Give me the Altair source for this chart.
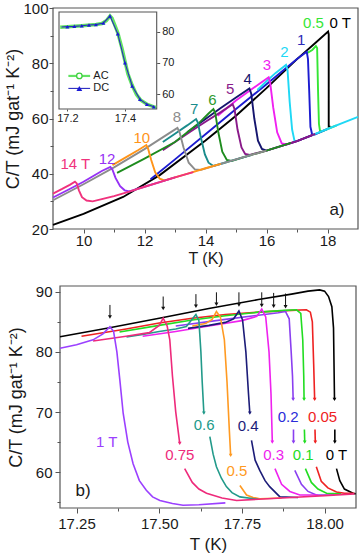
import altair as alt
import pandas as pd

FONT = "Liberation Sans"
INK = "#1a1a1a"
FRAME = "#555555"

# ---------------- drawing area (pixels, relative to plot origin) ----------------
W, H = 305, 500
PAD = {"left": 53, "top": 8, "right": 5, "bottom": 50}
A_XR, A_YR = [0, 305], [221, 0]        # panel a
B_XR, B_YR = [7, 303], [500, 278]      # panel b
I_XR, I_YR = [6, 103.7], [101, 4]      # inset of panel a

# ---------------- domains and ticks ----------------
a_xdom, a_ydom = [9, 19], [20, 100]
a_xticks, a_xminor = [10, 12, 14, 16, 18], [11, 13, 15, 17]
a_yticks, a_yminor = [20, 40, 60, 80, 100], [30, 50, 70, 90]

b_xdom, b_ydom = [17.2, 18.095], [54.05, 90.95]
b_xticks, b_xminor = [17.25, 17.5, 17.75, 18.0], [17.375, 17.625, 17.875]
b_yticks, b_yminor = [60, 70, 80, 90], [55, 65, 75, 85]

i_xdom, i_ydom = [17.171, 17.51], [55.2, 86.3]
i_xticks = [17.2, 17.4]
i_yticks = [60, 70, 80]

YTITLE = "C/T (mJ gat\u207b\u00b9 K\u207b\u00b2)"

# ---------------- panel a: C/T for 0 ... 14 T ----------------
a_names = ["0 T", "0.5", "1", "2", "3", "4", "5", "6", "7", "8", "10", "12", "14 T"]
a_colors = ["#000000", "#35e635", "#1c1cd0", "#1fd8f5", "#f020f0", "#15156e",
            "#8a1a8a", "#1e8c1e", "#1a8c8c", "#8c8c8c", "#ff9419", "#9632f5", "#f0327d"]
a_T = {
    "0 T": [9, 10, 11.3, 12.5, 14, 15, 16, 17, 17.6, 18.02, 18.04, 18.04, 18.1],
    "0.5": [17.3, 17.5, 17.62, 17.66, 17.69, 17.72, 17.76, 18.0, 18.3],
    "1": [12.2, 13, 14, 15, 16, 17, 17.32, 17.36, 17.4, 17.44, 17.5, 17.6, 18.0],
    "2": [15.7, 16.0, 16.3, 16.64, 16.69, 16.76, 16.84, 16.92, 17.0, 17.5, 18, 18.5, 19],
    "3": [14.4, 15, 15.5, 16.07, 16.12, 16.22, 16.35, 16.5, 16.67, 17, 17.5],
    "4": [13.4, 14, 14.5, 15, 15.44, 15.5, 15.6, 15.72, 15.85, 16.0, 16.5, 17, 17.5],
    "5": [12.6, 13, 13.5, 14, 14.5, 14.89, 14.95, 15.05, 15.18, 15.3, 15.45, 16, 16.5, 17, 17.6],
    "6": [11.1, 12, 13, 13.8, 14.1, 14.26, 14.32, 14.42, 14.55, 14.7, 14.85, 15.5, 16, 16.8],
    "7": [12.6, 13, 13.4, 13.69, 13.75, 13.85, 13.98, 14.1, 14.26, 14.6, 15.0, 15.5],
    "8": [9, 10, 11, 12, 12.8, 13.08, 13.15, 13.28, 13.45, 13.65, 13.85, 14.5, 15, 16],
    "10": [10.95, 11.4, 11.8, 12.06, 12.12, 12.22, 12.35, 12.5, 12.65, 13, 13.5, 14, 14.5],
    "12": [9, 9.5, 10, 10.6, 10.88, 10.95, 11.05, 11.2, 11.35, 11.5, 12, 12.5, 13],
    "14 T": [9, 9.3, 9.55, 9.72, 9.78, 9.85, 9.95, 10.1, 10.3, 10.6, 11, 11.5, 12, 12.5, 13, 13.6],
}
a_C = {
    "0 T": [21.5, 25.5, 31.6, 39.5, 52, 61, 71, 81.5, 87.3, 91.5, 90.5, 57.0, 57.0],
    "0.5": [83.5, 84.8, 86.2, 85.5, 70, 58, 55.1, 56.2, 57.5],
    "1": [38, 45.2, 54.3, 63.4, 72.4, 81.5, 84.2, 81.5, 70, 57, 54.0, 54.3, 56.2],
    "2": [70.3, 73.5, 76.5, 79.4, 77.5, 66, 56, 51.8, 51.8, 54.0, 56.2, 58.4, 60.6],
    "3": [61, 66.5, 70.5, 74.9, 73, 64, 55, 51, 50.6, 51.8, 54.0],
    "4": [55, 59.8, 63.8, 67.6, 70.9, 69, 60, 52, 49, 48.4, 50.1, 51.8, 54.0],
    "5": [48.5, 51.5, 55.2, 58.8, 62.3, 65.2, 63.5, 56, 49.5, 47.2, 46.8, 48.4, 50.1, 51.8, 54.4],
    "6": [40.3, 45.5, 51.5, 58.5, 61.8, 63.4, 62, 55, 48, 45, 44.6, 46.8, 48.4, 51.2],
    "7": [51.5, 54.5, 57.5, 59.8, 58.5, 53, 47, 44, 42.8, 43.9, 45.2, 46.8],
    "8": [30.4, 36.2, 42.3, 48.9, 54.6, 56.6, 55, 49.5, 44, 41.6, 41.4, 43.6, 45.2, 48.4],
    "10": [43.1, 46, 48.6, 50.4, 49, 45, 40.5, 38.2, 37.6, 38.7, 40.3, 42.0, 43.6],
    "12": [31.4, 34.2, 37.1, 41, 42.5, 41.5, 38.5, 35.5, 34.0, 33.6, 35.3, 37.0, 38.7],
    "14 T": [32.8, 34.5, 36, 37.1, 36.5, 34, 31.5, 30.3, 30.0, 30.8, 31.9, 33.5, 35.3, 37.0, 38.7, 40.6],
}
a_lab_T = [18.42, 17.54, 17.14, 16.59, 16.01, 15.38, 14.81, 14.23, 13.63, 13.06, 11.91, 10.77, 9.73]
a_lab_C = [94.5, 94.5, 88.4, 84.2, 79.4, 74.4, 70.5, 66.7, 63.5, 60.6, 53.1, 45.2, 43.5]
a_lab_col = ["#000000", "#35e635", "#2a2ab8", "#1fd8f5", "#f020f0", "#15156e",
             "#8a1a8a", "#2e9a2e", "#1a8c8c", "#8c8c8c", "#ff9419", "#9632f5", "#f0327d"]
a_tag_T, a_tag_C = [18.31], [27.0]

# ---------------- inset: AC and DC runs at 1 T ----------------
ac_T = [17.175, 17.2, 17.25, 17.3, 17.32, 17.335, 17.348, 17.355, 17.365, 17.375, 17.39,
        17.4, 17.41, 17.425, 17.44, 17.455, 17.475, 17.5, 17.508]
ac_C = [81.4, 81.6, 81.9, 82.3, 82.6, 83.5, 85.0, 84.3, 82.0, 79.6, 74.5,
        70.5, 66.5, 62.8, 59.8, 58.0, 56.8, 55.9, 55.7]
dc_T = [17.18, 17.2, 17.224, 17.25, 17.275, 17.299, 17.325, 17.348, 17.375, 17.4,
        17.425, 17.452, 17.476, 17.5]
dc_C = [81.5, 81.6, 81.7, 81.9, 82.15, 82.25, 82.8, 85.0, 79.3, 70.0,
        62.6, 58.3, 56.7, 55.9]
leg_names = ["AC", "DC"]
leg_C = [65.8, 61.8]
leg_T0, leg_T1, leg_Tm, leg_Ttxt = 17.2035, 17.279, 17.2416, 17.29

# ---------------- panel b: C/T near Tc for 0 ... 1 T ----------------
b_names = ["0 T", "0.05", "0.1", "0.2", "0.3", "0.4", "0.5", "0.6", "0.75", "1 T"]
b_colors = ["#000000", "#ee2222", "#22dd22", "#8a3ff0", "#ee22ee", "#1c1c78",
            "#ff9a22", "#229a8a", "#ee2a7b", "#9b40ff"]
b_T = {
    "0 T": [17.2, 17.35, 17.5, 17.65, 17.8, 17.9, 17.95, 17.985, 18.0, 18.012, 18.022, 18.027, 18.03, None,
            18.031, 18.031, None, 18.036, 18.046, 18.06, 18.086, 18.094],
    "0.05": [17.265, 17.4, 17.5, 17.6, 17.7, 17.8, 17.9, 17.945, 17.957, 17.963, 17.967, 17.97, None,
             17.971, 17.972, None, 17.975, 17.99, 18.01, 18.036, 18.06, 18.09],
    "0.1": [17.38, 17.5, 17.6, 17.7, 17.8, 17.88, 17.915, 17.928, 17.934, 17.937, 17.938, None,
            17.939, 17.94, None, 17.942, 17.96, 17.98, 18.006, 18.05],
    "0.2": [17.55, 17.7, 17.8, 17.86, 17.882, 17.893, 17.899, 17.903, 17.905, None,
            17.906, 17.906, None, 17.91, 17.93, 17.95, 17.975, 18.03],
    "0.3": [17.45, 17.55, 17.65, 17.75, 17.795, 17.81, 17.822, 17.832, 17.838, 17.842, None,
            17.85, 17.87, 17.895, 17.925, 17.98],
    "0.4": [17.587, 17.65, 17.7, 17.725, 17.741, 17.752, 17.762, 17.77, 17.774, None,
            17.779, 17.79, 17.804, 17.82, 17.834, 17.865, 17.92],
    "0.5": [17.6, 17.64, 17.66, 17.673, 17.685, 17.697, 17.705, 17.712, 17.716, None,
            17.744, 17.764, 17.784, 17.804, 17.87],
    "0.6": [17.401, 17.45, 17.5, 17.55, 17.582, 17.611, 17.62, 17.626, 17.63, 17.635, None,
            17.653, 17.663, 17.673, 17.688, 17.703, 17.72, 17.744, 17.8],
    "0.75": [17.3, 17.4, 17.47, 17.5, 17.512, 17.524, 17.532, 17.54, 17.55, 17.562, None,
             17.577, 17.6, 17.62, 17.643, 17.69, 17.734, 17.8, 17.9, 18.0, 18.09],
    "1 T": [17.2, 17.25, 17.3, 17.33, 17.351, 17.362, 17.372, 17.381, 17.391, 17.405, 17.421,
            17.44, 17.461, 17.48, 17.502, 17.54, 17.572, 17.62, 17.7],
}
b_C = {
    "0 T": [82.5, 84.0, 85.6, 87.2, 88.7, 89.6, 90.1, 90.3, 90.1, 89.2, 87.5, 84, 72.1, None,
            67.1, 65.0, None, 60.6, 58.6, 57.2, 56.5, 56.4],
    "0.05": [82.6, 83.8, 84.8, 85.6, 86.2, 86.6, 86.9, 87.0, 86.6, 85.0, 78, 72.1, None,
             67.1, 65.0, None, 60.9, 58.5, 57.4, 56.7, 56.5, 56.5],
    "0.1": [83.3, 84.4, 85.3, 86.0, 86.6, 86.9, 87.0, 86.4, 82, 76, 72.1, None,
            67.1, 65.0, None, 60.6, 58.3, 57.2, 56.5, 56.4],
    "0.2": [84.3, 85.4, 86.1, 86.5, 86.7, 85.5, 80, 76, 72.1, None,
            67.1, 65.0, None, 60.3, 58.0, 56.8, 56.2, 56.2],
    "0.3": [82.6, 83.4, 84.3, 85.2, 85.9, 87.1, 85.8, 80, 73, 65.0, None,
            60.6, 58.0, 56.8, 56.2, 56.2],
    "0.4": [83.9, 84.4, 84.9, 85.5, 86.8, 85.3, 80, 73, 69.8, None,
            65.3, 62.0, 60.3, 58.6, 57.6, 55.9, 55.8],
    "0.5": [84.3, 84.7, 85.4, 86.7, 85.8, 82, 75, 67, 62.8, None,
            57.8, 56.2, 55.8, 55.6, 55.7],
    "0.6": [82.5, 82.9, 83.4, 83.8, 84.2, 86.2, 85.2, 80, 75, 69.8, None,
            65.9, 63.0, 60.9, 59.0, 57.6, 56.6, 55.9, 55.5],
    "0.75": [81.8, 82.6, 83.2, 84.4, 85.6, 84.3, 82, 76, 70, 64.8, None,
             60.6, 58.3, 57.2, 56.5, 55.7, 55.3, 55.5, 55.8, 56.1, 56.4],
    "1 T": [80.6, 81.2, 82.0, 83.0, 84.2, 83.4, 80, 75.3, 69.8, 65, 61.4,
            58.6, 57.0, 55.9, 55.3, 54.8, 54.5, 54.6, 54.9],
}
b_lab = ["1 T", "0.75", "0.6", "0.5", "0.4", "0.3", "0.2", "0.05", "0.1", "0 T"]
b_lab_T = [17.341, 17.562, 17.636, 17.735, 17.769, 17.846, 17.89, 17.994, 17.935, 18.036]
b_lab_C = [65.0, 62.8, 67.8, 60.2, 67.7, 62.8, 69.2, 69.2, 62.8, 62.8]
b_lab_col = ["#9b40ff", "#ee2a7b", "#229a8a", "#ff9a22", "#1c1c78", "#ee22ee",
             "#2b2bd9", "#ee2222", "#22dd22", "#000000"]
arrow_T = [17.351, 17.512, 17.611, 17.673, 17.741, 17.81, 17.846, 17.882]
arrow_top = [87.8, 89.2, 89.6, 89.9, 89.9, 89.9, 89.8, 89.7]
arrow_tip = [85.8, 87.2, 87.6, 87.9, 87.8, 87.7, 87.6, 87.5]
b_tag_T, b_tag_C = [17.27], [56.9]

# draw order of the curves (later ones on top)
b_order = ["0 T", "0.05", "0.1", "0.2", "0.3", "0.4", "0.5", "0.6", "0.75", "1 T"]


def curve_table(T, C):
    """Split a curve at None entries into separately drawn segments."""
    rows, seg = [], 0
    for i, (t, c) in enumerate(zip(T, C)):
        if t is None or c is None:
            seg += 1
            continue
        rows.append({"T": t, "C": c, "seg": seg, "i": i})
    return pd.DataFrame(rows)


def segment_ends(T, C):
    """Last point of every segment that is followed by a break."""
    ends, prev = [], None
    for t, c in zip(T, C):
        if t is None and prev is not None:
            ends.append(prev)
        prev = None if t is None else (t, c)
    return ends


def frame_table(xdom, ydom):
    return pd.DataFrame({"T": [xdom[0]], "T2": [xdom[1]], "C": [ydom[0]], "C2": [ydom[1]]})


def scale(dom, rng):
    return alt.Scale(domain=dom, range=rng, nice=False, zero=False)


class Panel:
    """Scales and axes shared by every layer drawn inside one panel."""

    def __init__(self, xs, ys, xaxis, yaxis):
        self.xs, self.ys, self.xaxis, self.yaxis = xs, ys, xaxis, yaxis

    def pos(self):
        return {"x": alt.X("T:Q", scale=self.xs, axis=self.xaxis),
                "y": alt.Y("C:Q", scale=self.ys, axis=self.yaxis)}


def minor_ticks(xs, ys, xvals, yvals, xoff, yoff, tick=3):
    return alt.Chart(pd.DataFrame({"T": [xs.domain[0]], "C": [ys.domain[0]]})).mark_point(opacity=0).encode(
        x=alt.X("T:Q", scale=xs,
                axis=alt.Axis(orient="bottom", offset=xoff, values=xvals, labels=False, domain=False,
                              tickSize=tick, title=None, grid=False)),
        y=alt.Y("C:Q", scale=ys,
                axis=alt.Axis(orient="left", offset=yoff, values=yvals, labels=False, domain=False,
                              tickSize=tick, title=None, grid=False)))


# ================= panel a =================
PA = Panel(
    scale(a_xdom, A_XR), scale(a_ydom, A_YR),
    alt.Axis(orient="bottom", offset=A_YR[0] - H, values=a_xticks, title="T (K)", format="d",
             tickSize=4, labelPadding=0, labelFontSize=15, titleFontSize=16, titlePadding=2,
             domain=False, grid=False),
    alt.Axis(orient="left", offset=-A_XR[0], values=a_yticks, title=YTITLE, format="d",
             tickSize=4, labelPadding=1, labelFontSize=15, titleFontSize=18, titlePadding=0,
             domain=False, grid=False),
)

a_frame = alt.Chart(frame_table(a_xdom, a_ydom)).mark_rect(
    fillOpacity=0, stroke=FRAME, strokeWidth=1.2).encode(**PA.pos(), x2="T2:Q", y2="C2:Q")
a_lines = [
    alt.Chart(curve_table(a_T[n], a_C[n])).mark_line(color=c, strokeWidth=1.9).encode(
        **PA.pos(), detail="seg:N", order="i:Q")
    for n, c in zip(a_names, a_colors)
]
a_labels = alt.Chart(pd.DataFrame({"T": a_lab_T, "C": a_lab_C, "txt": a_names, "col": a_lab_col})).mark_text(
    font=FONT, fontSize=15).encode(**PA.pos(), text="txt:N", color=alt.Color("col:N", scale=None))
a_tag = alt.Chart(pd.DataFrame({"T": a_tag_T, "C": a_tag_C, "txt": ["a)"]})).mark_text(
    font=FONT, fontSize=17, color=INK).encode(**PA.pos(), text="txt:N")

panel_a = alt.layer(a_frame, *a_lines, a_labels, a_tag)
a_minor = minor_ticks(PA.xs, PA.ys, a_xminor, a_yminor, A_YR[0] - H, -A_XR[0])

# ================= inset =================
PI = Panel(
    scale(i_xdom, I_XR), scale(i_ydom, I_YR),
    alt.Axis(orient="bottom", offset=I_YR[0] - H, values=i_xticks, title=None, format=".1f",
             tickSize=2, labelPadding=1, labelFontSize=11, domain=False, grid=False),
    alt.Axis(orient="right", offset=I_XR[1] - W, values=i_yticks, title=None, format="d",
             tickSize=3, labelPadding=2, labelFontSize=11, domain=False, grid=False),
)

i_frame = alt.Chart(frame_table(i_xdom, i_ydom)).mark_rect(
    fill="white", stroke=FRAME, strokeWidth=1.1).encode(**PI.pos(), x2="T2:Q", y2="C2:Q")
i_ac = alt.Chart(pd.DataFrame({"T": ac_T, "C": ac_C})).mark_line(
    color="#62e262", strokeWidth=3.5).encode(**PI.pos())
i_dc = alt.Chart(pd.DataFrame({"T": dc_T, "C": dc_C})).mark_line(
    color="#2a2ac0", strokeWidth=1.1).encode(**PI.pos())
i_dc_pts = alt.Chart(pd.DataFrame({"T": dc_T[1:], "C": dc_C[1:]})).mark_point(
    shape="triangle-up", filled=True, size=16, color="#1a1ad6", opacity=1).encode(**PI.pos())

leg_lines = pd.DataFrame({
    "T": [leg_T0, leg_T1, leg_T0, leg_T1],
    "C": [leg_C[0], leg_C[0], leg_C[1], leg_C[1]],
    "name": ["AC", "AC", "DC", "DC"],
    "col": ["#62e262", "#62e262", "#2a2ac0", "#2a2ac0"],
    "w": [2.2, 2.2, 1.1, 1.1],
})
i_leg_lines = alt.Chart(leg_lines).mark_line().encode(
    **PI.pos(), detail="name:N", color=alt.Color("col:N", scale=None),
    strokeWidth=alt.StrokeWidth("w:Q", scale=None))
i_leg_ac = alt.Chart(pd.DataFrame({"T": [leg_Tm], "C": [leg_C[0]]})).mark_point(
    shape="circle", size=30, filled=True, fill="white", stroke="#3fd03f", strokeWidth=1.3,
    opacity=1).encode(**PI.pos())
i_leg_dc = alt.Chart(pd.DataFrame({"T": [leg_Tm], "C": [leg_C[1]]})).mark_point(
    shape="triangle-up", size=34, filled=True, color="#1a1ad6", opacity=1).encode(**PI.pos())
i_leg_txt = alt.Chart(pd.DataFrame({"T": [leg_Ttxt] * 2, "C": leg_C, "txt": leg_names})).mark_text(
    font=FONT, fontSize=11, align="left", baseline="middle", color=INK).encode(**PI.pos(), text="txt:N")

inset = alt.layer(i_frame, i_ac, i_dc, i_dc_pts, i_leg_lines, i_leg_ac, i_leg_dc, i_leg_txt)

# ================= panel b =================
PB = Panel(
    scale(b_xdom, B_XR), scale(b_ydom, B_YR),
    alt.Axis(orient="bottom", offset=B_YR[0] - H, values=b_xticks, title="T (K)", format=".2f",
             tickSize=5, labelPadding=3, labelFontSize=15, titleFontSize=17, titlePadding=5,
             domain=False, grid=False),
    alt.Axis(orient="left", offset=-B_XR[0], values=b_yticks, title=YTITLE, format="d",
             tickSize=5, labelPadding=3, labelFontSize=15, titleFontSize=18, titlePadding=10,
             domain=False, grid=False),
)

b_frame = alt.Chart(frame_table(b_xdom, b_ydom)).mark_rect(
    fillOpacity=0, stroke=FRAME, strokeWidth=1.2).encode(**PB.pos(), x2="T2:Q", y2="C2:Q")

b_col = dict(zip(b_names, b_colors))
b_lines = [
    alt.Chart(curve_table(b_T[n], b_C[n])).mark_line(color=b_col[n], strokeWidth=1.6).encode(
        **PB.pos(), detail="seg:N", order="i:Q")
    for n in b_order
]
heads = [(t, c, b_col[n]) for n in b_order for (t, c) in segment_ends(b_T[n], b_C[n])]
b_heads = alt.Chart(pd.DataFrame(heads, columns=["T", "C", "col"])).mark_point(
    shape="triangle-down", filled=True, size=14, opacity=1).encode(
    **PB.pos(), color=alt.Color("col:N", scale=None))

b_arrows = alt.Chart(pd.DataFrame({"T": arrow_T, "C": arrow_top, "C2": arrow_tip})).mark_rule(
    color="#111111", strokeWidth=1).encode(**PB.pos(), y2="C2:Q")
b_arrow_heads = alt.Chart(pd.DataFrame({"T": arrow_T, "C": arrow_tip})).mark_point(
    shape="triangle-down", filled=True, size=16, color="#111111", opacity=1).encode(**PB.pos())

b_labels = alt.Chart(pd.DataFrame({"T": b_lab_T, "C": b_lab_C, "txt": b_lab, "col": b_lab_col})).mark_text(
    font=FONT, fontSize=15).encode(**PB.pos(), text="txt:N", color=alt.Color("col:N", scale=None))
b_tag = alt.Chart(pd.DataFrame({"T": b_tag_T, "C": b_tag_C, "txt": ["b)"]})).mark_text(
    font=FONT, fontSize=17, color=INK).encode(**PB.pos(), text="txt:N")

panel_b = alt.layer(b_frame, *b_lines, b_heads, b_arrows, b_arrow_heads, b_labels, b_tag)
b_minor = minor_ticks(PB.xs, PB.ys, b_xminor, b_yminor, B_YR[0] - H, -B_XR[0])

# ================= assemble =================
chart = alt.layer(panel_a, a_minor, inset, panel_b, b_minor).resolve_scale(
    x="independent", y="independent"
).resolve_axis(
    x="independent", y="independent"
).properties(
    width=W, height=H, autosize=alt.AutoSizeParams(type="none"), padding=PAD, background="white"
).configure_view(
    strokeOpacity=0
).configure_axis(
    labelFont=FONT, titleFont=FONT, labelColor=INK, titleColor=INK, tickColor=FRAME,
    titleFontWeight="normal", grid=False
)

chart.save("out.html", embed_options={"renderer": "svg", "actions": False})
